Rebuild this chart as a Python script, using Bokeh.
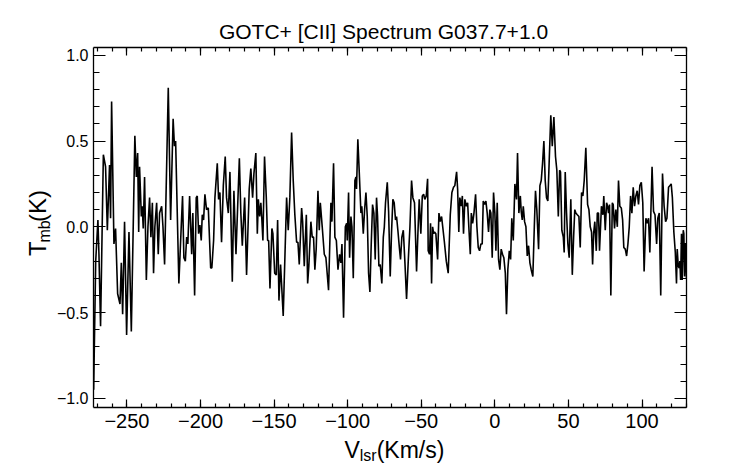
from bokeh.plotting import figure
from bokeh.models import (Range1d, LinearAxis, FixedTicker, CustomJSTickFormatter, Label)
from bokeh.layouts import column, row
from bokeh.embed import file_html
from bokeh.resources import INLINE
import math

# ---- data ----
velocity = [
    -272.6, -271.2, -269.7, -269.0, -267.9, -266.0, -264.5, -263.3, -261.8, -261.1,
    -260.4, -258.8, -257.7, -256.3, -254.7, -253.8, -252.9, -251.6, -250.2, -248.6,
    -247.0, -244.6, -243.6, -242.7, -242.0, -241.4, -240.2, -239.6, -238.9, -238.0,
    -236.8, -235.7, -234.6, -233.7, -232.7, -231.9, -231.0, -229.8, -228.7, -227.8,
    -226.4, -225.5, -224.4, -221.9, -220.3, -218.6, -217.7, -216.9,
    -214.7, -213.1, -212.2, -211.3, -210.3, -209.4, -208.6, -207.4, -206.0, -205.2,
    -204.0, -202.9, -202.2, -201.3, -200.4, -199.5, -198.8, -197.9, -197.0, -195.9,
    -194.7, -193.1, -192.3, -191.1, -190.2, -188.6, -187.7, -186.8, -185.7, -184.5,
    -183.2, -182.3, -181.1, -180.0, -178.4, -177.3, -175.9, -173.6, -172.6, -171.6,
    -170.0, -168.7, -166.9, -165.8, -164.6, -163.7, -162.4,
    -161.4, -160.7, -159.8, -159.0, -158.3, -157.6, -156.5, -155.3, -154.4, -153.7,
    -152.8, -151.5, -150.8, -149.6, -148.5, -147.6, -146.7, -145.6, -143.8, -141.5,
    -140.4, -139.3, -138.1, -137.0, -135.9, -134.7, -133.8, -132.9, -131.3, -130.6,
    -129.5, -128.1, -127.2, -126.4, -125.0, -124.1, -123.2, -122.3, -121.4, -120.2,
    -119.3, -118.6, -117.3, -115.9, -114.8, -113.0, -111.4, -110.7, -109.6, -108.7,
    -107.7, -106.6, -105.5, -104.6, -103.9, -102.8, -101.6,
    -100.7, -100.3, -99.4, -98.7, -97.8, -97.1, -96.2, -95.1, -94.4, -94.0,
    -93.1, -92.1, -91.0, -90.4, -89.4, -88.5, -87.6, -86.7, -85.8, -84.9,
    -84.0, -83.1, -82.2, -81.3, -80.4, -79.7, -78.8, -77.9, -76.8, -75.8,
    -75.1, -74.3, -73.1, -72.2, -71.1, -70.2, -69.3, -68.4, -67.5, -66.8,
    -65.9, -64.9, -64.1, -63.2, -62.2, -61.1, -60.0, -58.8, -57.7, -56.6,
    -55.7, -54.6, -53.2, -52.3, -51.4, -50.3, -49.3, -48.4, -47.6, -46.6, -45.7,
    -45.3, -44.4, -43.7, -43.0, -42.3, -41.6, -41.0, -40.1, -38.9, -38.0,
    -37.1, -36.2, -35.3, -34.4, -33.0, -31.7, -30.3, -29.2, -28.1, -27.2,
    -26.0, -25.3, -24.5, -23.8, -22.8, -22.1, -21.3, -20.4, -19.4, -18.5,
    -17.7, -16.7, -16.0, -15.1, -14.2, -13.1, -12.2, -11.3, -10.4, -9.5,
    -8.6, -7.9, -7.0, -6.1, -5.2, -4.3, -3.4, -2.7, -1.8, -0.9,
    0.0, 0.7, 1.6, 2.5, 3.4, 4.3, 5.2, 6.1, 7.1, 7.9,
    8.8, 9.8, 10.7, 11.5, 12.5, 13.6,
    14.7, 15.4, 16.3, 17.3, 17.9, 18.6, 19.3, 20.2, 21.1, 22.0,
    22.9, 23.8, 24.7, 25.8, 26.8, 27.6, 28.5, 29.7, 30.6, 31.5,
    32.4, 33.3, 34.2, 35.1, 36.0, 36.9, 38.0, 39.0, 40.1, 41.2,
    42.1, 43.1, 44.0, 44.6, 45.5, 46.5, 47.1, 47.8, 48.7, 49.6,
    50.5, 51.6, 52.6, 53.5, 54.3, 55.0, 56.0, 57.1, 58.0, 58.9,
    59.8, 60.7, 61.8, 63.0, 63.9, 64.8, 65.7, 66.4, 67.1, 67.9,
    68.9, 69.6, 70.4, 71.1,
    72.4, 73.4, 74.0, 75.0, 75.9, 76.6, 77.2, 77.9, 78.8, 79.8,
    80.4, 81.3, 82.2, 83.2, 84.0, 84.9, 85.9, 86.8, 87.6, 88.6,
    89.5, 90.4, 91.3, 92.2, 93.1, 94.0, 94.9, 95.8, 96.7, 97.6,
    98.5, 99.5, 100.5, 101.4,
    102.6, 103.5, 104.4, 105.3, 106.8, 107.8, 108.8, 109.9, 110.7, 111.7,
    112.7, 113.9, 115.0, 116.0, 116.9, 118.0, 118.9, 119.8, 120.6, 121.6,
    122.6, 123.4, 123.9, 124.6, 125.3, 125.7, 126.2, 126.8, 127.3, 128.0,
    128.4, 128.9, 129.6, 130.2,
]
tmb = [
    -0.95, -0.20, 0.04, -0.16, -0.58, 0.42, 0.35, -0.02, 0.36, 0.05,
    0.73, -0.10, -0.01, -0.39, -0.45, -0.21, -0.51, 0.03, -0.63, -0.03,
    -0.61, 0.53, 0.29, 0.43, -0.03, 0.35, 0.06, 0.12, -0.01, 0.29,
    -0.31, 0.00, 0.17, -0.06, 0.14, -0.27, 0.00, 0.14, -0.16, 0.08,
    0.12, 0.00, -0.22, 0.81, 0.04, 0.63, 0.47, 0.50,
    -0.33, 0.00, 0.18, -0.18, -0.20, -0.06, -0.10, 0.18, -0.16, 0.08,
    -0.40, 0.17, 0.18, -0.04, 0.01, -0.08, 0.07, 0.04, 0.19, 0.10,
    0.11, -0.24, -0.24, -0.08, 0.17, 0.37, 0.16, 0.20, -0.09, 0.24,
    0.41, 0.17, 0.08, 0.32, -0.32, 0.21, -0.16, 0.40, 0.08, -0.11,
    0.17, -0.28, 0.22, 0.34, 0.17, 0.31, 0.43,
    -0.04, 0.16, 0.06, 0.14, 0.04, -0.08, 0.41, 0.17, -0.08, -0.08,
    -0.36, -0.01, -0.04, -0.27, -0.28, 0.04, -0.43, -0.22, -0.52, 0.17,
    -0.02, 0.17, 0.55, 0.27, 0.07, -0.09, -0.09, -0.22, 0.11, 0.03,
    -0.23, 0.07, -0.33, -0.23, 0.03, -0.06, -0.06, -0.25, -0.13, 0.21,
    -0.02, 0.14, 0.00, -0.16, -0.18, -0.37, 0.14, 0.03, 0.37, -0.06,
    -0.08, -0.25, -0.16, -0.21, -0.10, -0.53, 0.00,
    0.02, -0.08, 0.20, -0.18, 0.06, 0.00, -0.30, 0.27, 0.29, 0.22,
    0.51, 0.31, 0.08, 0.12, -0.04, 0.10, 0.20, 0.06, -0.27, -0.38,
    -0.10, 0.13, 0.08, -0.19, 0.17, 0.06, -0.23, -0.22, -0.33, -0.06,
    0.00, 0.14, 0.26, 0.09, -0.29, -0.03, 0.16, 0.14, 0.04, 0.06,
    -0.02, -0.12, -0.19, -0.06, -0.02, -0.21, -0.42, -0.19, 0.00, 0.27,
    0.17, 0.14, -0.26, -0.04, 0.16, -0.04, 0.18, 0.19, 0.16, 0.18, 0.28,
    -0.14, -0.16, 0.02, -0.33, 0.00, -0.04, -0.03, -0.04, -0.19, 0.08,
    0.03, 0.06, -0.01, -0.08, -0.20, -0.27, 0.07, 0.20, 0.23, 0.24,
    0.32, 0.22, -0.03, 0.17, 0.12, 0.18, -0.04, 0.16, 0.12, 0.14,
    0.00, -0.16, 0.08, 0.02, 0.08, 0.19, 0.00, -0.12, -0.14, -0.10,
    -0.10, 0.15, 0.13, 0.15, 0.08, -0.03, 0.10, 0.08, -0.18, 0.20,
    0.08, -0.14, 0.14, -0.19, -0.25, -0.13, -0.16, -0.18, -0.27, -0.51,
    -0.25, -0.14, -0.19, 0.05, -0.08, 0.25,
    0.16, 0.43, 0.08, 0.18, 0.09, 0.04, 0.12, 0.03, 0.00, -0.17,
    -0.11, -0.21, -0.25, -0.29, 0.00, 0.21, 0.10, -0.13, 0.24, 0.27,
    0.37, 0.50, 0.27, 0.17, 0.15, 0.38, 0.65, 0.47, 0.64, 0.41,
    0.33, 0.06, 0.33, 0.32, -0.02, -0.06, -0.15, 0.32, 0.08, -0.10,
    -0.18, 0.16, -0.28, -0.06, 0.10, 0.08, 0.07, 0.06, -0.12, 0.20,
    0.18, 0.27, 0.46, 0.13, 0.10, 0.00, -0.03, -0.22, -0.04, 0.03,
    -0.14, 0.08, 0.08, -0.14,
    0.12, 0.07, 0.18, -0.02, 0.14, 0.12, 0.08, 0.13, -0.40, 0.14,
    0.13, -0.01, 0.10, 0.00, 0.27, 0.12, 0.11, 0.04, -0.12, -0.13,
    -0.17, -0.10, 0.00, 0.18, 0.08, 0.23, 0.12, 0.18, 0.21, 0.13,
    0.24, 0.26, 0.14, -0.26,
    0.05, 0.02, 0.05, -0.15, 0.35, 0.09, 0.07, -0.10, 0.05, 0.08,
    -0.40, 0.31, 0.12, 0.03, 0.05, 0.23, 0.24, 0.25, 0.17, -0.03,
    -0.15, -0.33, -0.13, -0.23, -0.24, -0.20, -0.31, -0.04, -0.31, -0.02,
    -0.04, -0.29, -0.10, -0.30,
]

x_major = [-250, -200, -150, -100, -50, 0, 50, 100]
x_minor = list(range(-270, 131, 10))
y_major = [-1.0, -0.5, 0.0, 0.5, 1.0]
y_minor = [round(-1.0 + 0.1 * i, 1) for i in range(21)]

title_text = "GOTC+ [CII] Spectrum G037.7+1.0"
FONT = "Liberation Sans"

x0, x1 = -272.7, 130.2
y0, y1 = -1.053, 1.045

W, H = 742, 464
TOP_H = 44          # title strip
BOT_H = 28          # x-label strip
LEFT_W = 53         # y-label strip
MID_H = H - TOP_H - BOT_H


def blank(w, h):
    f = figure(width=w, height=h, x_range=Range1d(0, w), y_range=Range1d(0, h),
               output_backend="svg", toolbar_location=None,
               x_axis_type=None, y_axis_type=None,
               min_border_left=0, min_border_right=0, min_border_top=0, min_border_bottom=0)
    f.outline_line_color = None
    f.background_fill_color = "white"
    f.border_fill_color = "white"
    return f


def lab(f, text, x, y, size, align="left", angle=0.0):
    f.add_layout(Label(x=x, y=y, text=text, text_font=FONT, text_font_size=f"{size}px",
                       text_align=align, text_baseline="alphabetic", text_color="black",
                       angle=angle))


SHIFT = 0.32   # baseline correction, in em

# ---- main plot ----
p = figure(width=W - LEFT_W, height=MID_H, x_range=Range1d(x0, x1), y_range=Range1d(y0, y1),
           output_backend="svg", toolbar_location=None,
           x_axis_type=None, y_axis_type=None,
           min_border_left=93 - LEFT_W, min_border_right=W - 686,
           min_border_top=3, min_border_bottom=29)
p.outline_line_color = None
p.background_fill_color = "white"
p.border_fill_color = "white"

xfmt = CustomJSTickFormatter(code="return (tick < 0 ? '\u2212' : '') + Math.abs(tick).toFixed(0);")
yfmt = CustomJSTickFormatter(code="return (tick < 0 ? '\u2212' : '') + Math.abs(tick).toFixed(1);")


def style(ax, major_len, minor_len, show_labels, size):
    ax.axis_line_color = "black"
    ax.axis_line_width = 1.3
    ax.major_tick_line_color = "black"
    ax.minor_tick_line_color = "black"
    ax.major_tick_line_width = 1.2
    ax.minor_tick_line_width = 1.2
    ax.major_tick_in = major_len
    ax.major_tick_out = 0
    ax.minor_tick_in = minor_len
    ax.minor_tick_out = 0
    ax.major_label_text_font = FONT
    ax.major_label_text_color = "black"
    if show_labels:
        ax.major_label_text_font_size = size
    else:
        ax.major_label_text_font_size = "0px"
        ax.major_label_text_alpha = 0
        ax.major_label_standoff = 0


xb = LinearAxis(ticker=FixedTicker(ticks=x_major, minor_ticks=x_minor), formatter=xfmt)
style(xb, 8, 4, True, "20px")
xb.major_label_standoff = 6
xt = LinearAxis(ticker=FixedTicker(ticks=x_major, minor_ticks=x_minor), formatter=xfmt)
style(xt, 8, 4, False, "0px")
yl = LinearAxis(ticker=FixedTicker(ticks=y_major, minor_ticks=y_minor), formatter=yfmt)
style(yl, 12, 6, True, "16px")
yl.major_label_standoff = 5
yr = LinearAxis(ticker=FixedTicker(ticks=y_major, minor_ticks=y_minor), formatter=yfmt)
style(yr, 12, 6, False, "0px")

p.add_layout(xb, "below")
p.add_layout(xt, "above")
p.add_layout(yl, "left")
p.add_layout(yr, "right")

p.line(velocity, tmb, line_color="black", line_width=1.6)

# ---- title strip (page y 0..44) ----
ft = blank(W, TOP_H)
lab(ft, title_text, 383, TOP_H - 38 + SHIFT * 21, 21, align="center")

# ---- y-label strip (page x 0..53) ----
fl = blank(LEFT_W, MID_H)
ang = math.pi / 2
ybase = TOP_H + MID_H          # page y of strip bottom
BIG, SUB = 24, 16
lab(fl, "T", 45 - SHIFT * BIG, ybase - 271.0, BIG, angle=ang)
lab(fl, "mb", 49 - SHIFT * SUB, ybase - 256.3, SUB, angle=ang)
lab(fl, "(K)", 45 - SHIFT * BIG, ybase - 234.1, BIG, angle=ang)

# ---- x-label strip (page y 436..464) ----
fb = blank(W, BOT_H)
XB, XS = 23, 16
lab(fb, "V", 344.0, H - 457 + SHIFT * XB, XB)
lab(fb, "lsr", 359.3, H - 460.5 + SHIFT * XS, XS)
lab(fb, "(Km/s)", 376.2, H - 457 + SHIFT * XB, XB)

layout = column(ft, row(fl, p), fb)
open("out.html", "w").write(file_html(layout, INLINE))
